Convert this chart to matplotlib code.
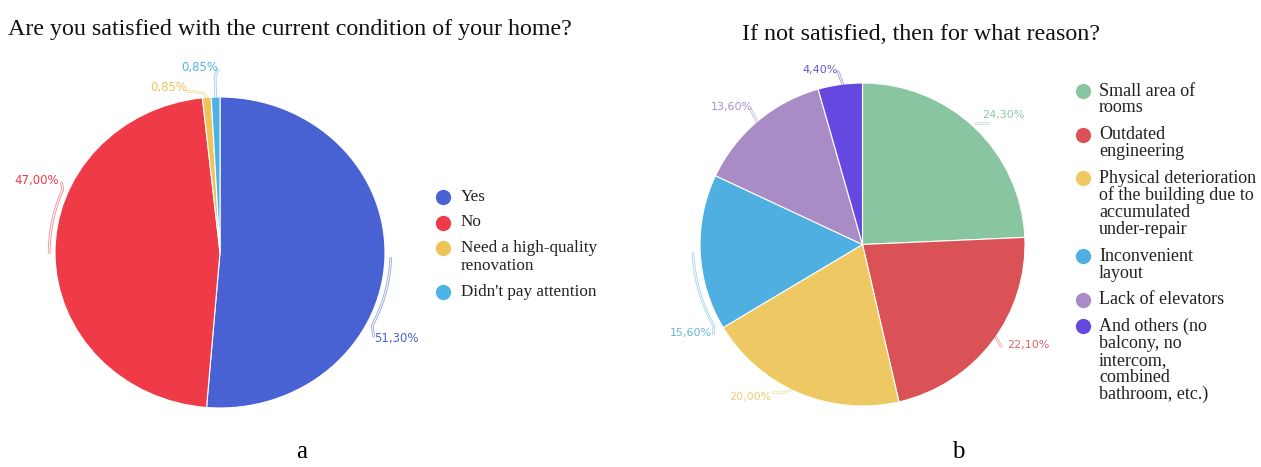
import numpy as np
import matplotlib.pyplot as plt

plt.rcParams["font.family"] = ["Liberation Serif", "DejaVu Serif"]

# Data
q1_title = "Are you satisfied with the current condition of your home?"
q1_labels = ["Yes", "No", "Need a high-quality\nrenovation", "Didn't pay attention"]
q1_values = [51.30, 47.00, 0.85, 0.85]
q1_colors = ["#4962D3", "#EF3A48", "#EEC459", "#4DB3E6"]

q2_title = "If not satisfied, then for what reason?"
q2_labels = ["Small area of\nrooms", "Outdated\nengineering",
             "Physical deterioration\nof the building due to\naccumulated\nunder-repair",
             "Inconvenient\nlayout", "Lack of elevators",
             "And others (no\nbalcony, no\nintercom,\ncombined\nbathroom, etc.)"]
q2_values = [24.30, 22.10, 20.00, 15.60, 13.60, 4.40]
q2_colors = ["#89C5A1", "#DA5156", "#EEC963", "#4FAFE1", "#A98BC6", "#6548E0"]
q2_text_colors = ["#8DC8A6", "#E0666A", "#EFCD73", "#63B6E3", "#A991C8", "#6A52DE"]

# label position (angle deg, radius) and leader path per slice
q1_label_pos = [(-27.2, 1.203), (157.2, 1.203), (106.2, 1.108), (95.8, 1.193)]
q1_leaders = [[(-2, 1.035), (-27, 1.035), (-30, 1.075)],
              [(180, 1.035), (157, 1.035), (155, 1.06)],
              [(94.6, 1.0), (95.7, 1.03), (100.9, 1.056)],
              [(91.5, 1.0), (91.5, 1.14), (90.6, 1.17)]]
q2_label_pos = [(42.8, 1.18), (-31.4, 1.193), (-126.2, 1.171),
                (-152.5, 1.189), (133.3, 1.17), (103.6, 1.11)]
q2_leaders = [[(47, 1.02), (44, 1.08)],
              [(-35, 1.0), (-36.5, 1.06)],
              [(-116, 1.0), (-118, 1.04), (-121, 1.07)],
              [(183, 1.045), (209, 1.045), (211, 1.07)],
              [(130.5, 1.0), (129.5, 1.08)],
              [(97, 1.0), (98, 1.08)]]

W, H = 1261, 467
fig = plt.figure(figsize=(W / 100, H / 100), dpi=100)


def px_axes(x0, y0, x1, y1):
    return fig.add_axes([x0 / W, 1 - y1 / H, (x1 - x0) / W, (y1 - y0) / H])


def polar(a, r):
    t = np.deg2rad(a)
    return r * np.cos(t), r * np.sin(t)


def leader(ax, pts, color):
    xs, ys = [], []
    for (a0, r0), (a1, r1) in zip(pts[:-1], pts[1:]):
        s = np.linspace(0, 1, 40)
        x, y = polar(a0 + (a1 - a0) * s, r0 + (r1 - r0) * s)
        xs.extend(x)
        ys.extend(y)
    ax.plot(xs, ys, color=color, lw=2.0, alpha=0.55, clip_on=False,
            solid_capstyle="round")
    ax.plot(xs, ys, color="white", lw=0.7, clip_on=False)


def draw_pie(ax, values, colors, text_colors, label_pos, leaders, fs):
    ax.pie(values, colors=colors, startangle=90, counterclock=False,
           wedgeprops=dict(edgecolor="white", linewidth=0.8))
    ax.set_aspect("auto")
    ax.set_xlim(-1, 1)
    ax.set_ylim(-1, 1)
    for v, c, (a, r), path in zip(values, text_colors, label_pos, leaders):
        leader(ax, path, c)
        x, y = polar(a, r)
        ax.text(x, y, f"{v:.2f}%".replace(".", ","), color=c, fontsize=fs,
                family="DejaVu Sans", ha="center", va="center", clip_on=False)


ax1 = px_axes(55, 97, 385, 408)
draw_pie(ax1, q1_values, q1_colors, q1_colors, q1_label_pos, q1_leaders, 8.5)

ax2 = px_axes(700, 83, 1025, 406)
draw_pie(ax2, q2_values, q2_colors, q2_text_colors, q2_label_pos, q2_leaders, 8)

# overlay in pixel coordinates for titles and legends
ov = fig.add_axes([0, 0, 1, 1])
ov.set_xlim(0, W)
ov.set_ylim(H, 0)
ov.axis("off")

ov.text(8, 29, q1_title, fontsize=17.3, ha="left", va="center", color="#111111")
ov.text(742, 35, q2_title, fontsize=17.3, ha="left", va="center", color="#111111")


def legend(labels, colors, x_mark, x_text, y0, lh, gap, fs, ms):
    y = y0
    for lab, c in zip(labels, colors):
        lines = lab.split("\n")
        ov.plot(x_mark, y, "o", color=c, markersize=ms, markeredgewidth=0)
        for i, line in enumerate(lines):
            ov.text(x_text, y + i * lh, line, fontsize=fs, ha="left",
                    va="center", color="#222222")
        y += len(lines) * lh + gap


legend(q1_labels, q1_colors, 443, 461, 197, 18.5, 7, 12.3, 11)
legend(q2_labels, q2_colors, 1083, 1099, 91, 17, 9.7, 13, 11)

ov.text(302, 452, "a", fontsize=18, ha="center", va="center")
ov.text(958, 452, "b", fontsize=18, ha="center", va="center")

fig.savefig("out.png", dpi=100)
